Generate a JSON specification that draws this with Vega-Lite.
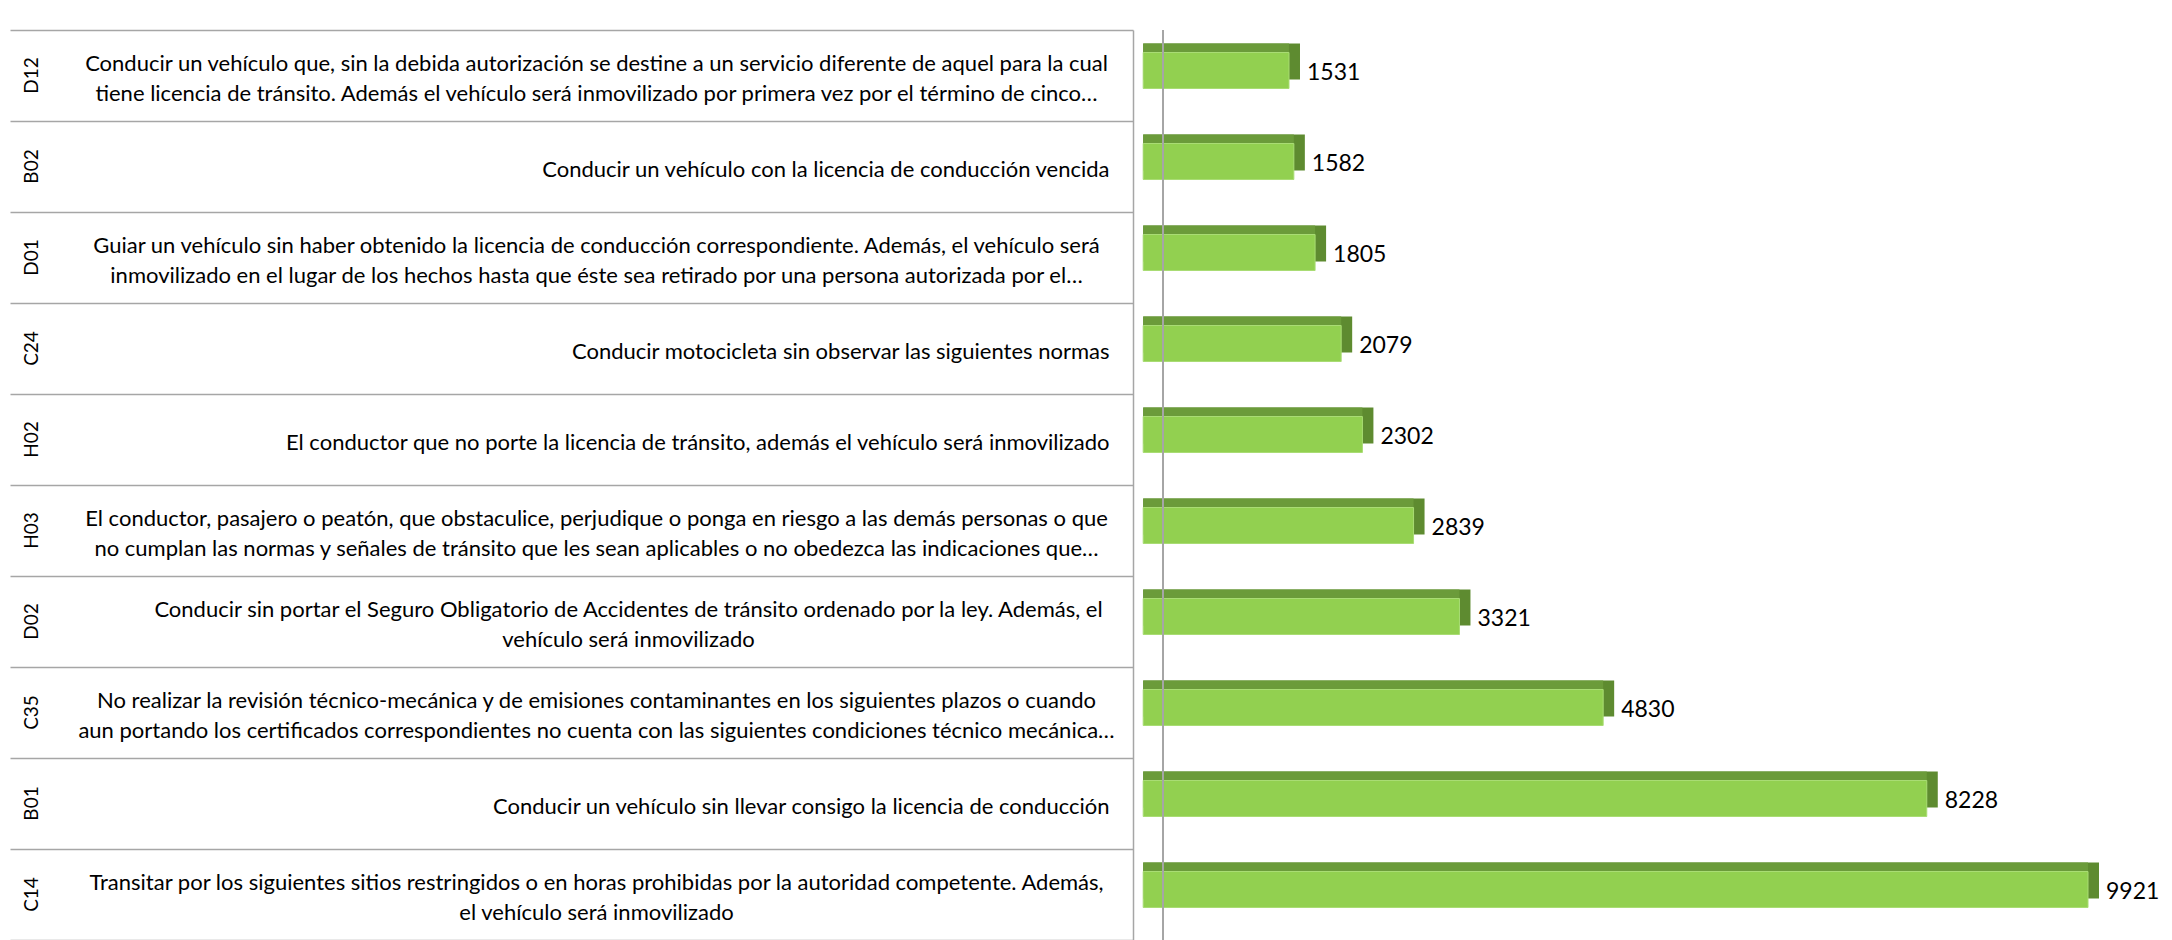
{
  "$schema": "https://vega.github.io/schema/vega-lite/v6.json",
  "width": 1039,
  "height": 910,
  "autosize": {"type": "none"},
  "padding": {"left": 1133, "top": 30, "right": 0, "bottom": 0},
  "background": "white",
  "config": {"view": {"stroke": null}, "font": "Lato"},
  "data": {
    "values": [
      {"code": "D12", "desc": "Conducir un vehículo que, sin la debida autorización se destine a un servicio diferente de aquel para la cual|tiene licencia de tránsito.  Además el vehículo será inmovilizado por primera vez por el término de cinco…", "value": 1531},
      {"code": "B02", "desc": "Conducir un vehículo con la licencia de conducción vencida", "value": 1582},
      {"code": "D01", "desc": "Guiar un vehículo sin haber obtenido la licencia de conducción correspondiente. Además, el vehículo será|inmovilizado en el lugar de los hechos hasta que éste sea retirado por una persona autorizada por el…", "value": 1805},
      {"code": "C24", "desc": "Conducir motocicleta sin observar las siguientes normas", "value": 2079},
      {"code": "H02", "desc": "El conductor que no porte la licencia de tránsito, además el vehículo será inmovilizado", "value": 2302},
      {"code": "H03", "desc": "El conductor, pasajero o peatón, que obstaculice, perjudique o ponga en riesgo a las demás personas o que|no cumplan las normas y señales de tránsito que les sean aplicables o no obedezca las indicaciones que…", "value": 2839},
      {"code": "D02", "desc": "Conducir sin portar el Seguro Obligatorio de Accidentes de tránsito ordenado por la ley. Además, el|vehículo será inmovilizado", "value": 3321},
      {"code": "C35", "desc": "No realizar la revisión técnico-mecánica y de emisiones contaminantes en los siguientes plazos o cuando|aun portando los certificados correspondientes no cuenta con las siguientes condiciones técnico mecánica…", "value": 4830},
      {"code": "B01", "desc": "Conducir un vehículo sin llevar consigo la licencia de conducción", "value": 8228},
      {"code": "C14", "desc": "Transitar por los siguientes sitios restringidos o en horas prohibidas por la autoridad competente.  Además,|el vehículo será inmovilizado", "value": 9921}
    ]
  },
  "resolve": {"scale": {"y": "independent"}, "axis": {"y": "independent"}},
  "layer": [
    {
      "mark": {"type": "bar", "height": 36, "xOffset": 11, "x2Offset": 11, "yOffset": -14, "color": "#5E8B30"},
      "encoding": {
        "y": {"field": "code", "type": "nominal", "sort": null,
          "scale": {"type": "band", "paddingInner": 0, "paddingOuter": 0},
          "axis": {"orient": "left", "title": null, "ticks": false, "domain": false,
            "labelAngle": -90, "labelAlign": "center", "labelBaseline": "middle", "labelPadding": 1102,
            "labelFont": "Lato", "labelFontSize": 19, "labelColor": "#000000"}},
        "x": {"field": "value", "type": "quantitative", "stack": null, "scale": {"domain": [-107, 10803], "nice": false, "zero": false}, "axis": null}
      }
    },
    {
      "mark": {"type": "bar", "height": 36, "x2Offset": 11, "yOffset": -14, "color": "#6B9B3A"},
      "encoding": {
        "y": {"field": "code", "type": "nominal", "sort": null,
          "scale": {"type": "band", "paddingInner": 0, "paddingOuter": 0}, "axis": null},
        "x": {"field": "value", "type": "quantitative", "stack": null}
      }
    },
    {
      "mark": {"type": "bar", "height": 36, "yOffset": -5, "color": "#92D050", "stroke": "#A9DC74", "strokeWidth": 1},
      "encoding": {
        "y": {"field": "code", "type": "nominal", "sort": null,
          "scale": {"type": "band", "paddingInner": 0, "paddingOuter": 0},
          "axis": {"orient": "left", "title": null, "labels": false, "ticks": true, "tickBand": "extent",
            "tickSize": 1123, "tickColor": "#A6A6A6", "tickWidth": 1.5, "domain": true,
            "domainColor": "#A6A6A6", "domainWidth": 1.5, "grid": false}},
        "x": {"field": "value", "type": "quantitative", "stack": null}
      }
    },
    {
      "mark": {"type": "text", "align": "left", "baseline": "middle", "dx": 18, "dy": -3, "font": "Lato", "fontSize": 23, "color": "#000000"},
      "encoding": {
        "y": {"field": "desc", "type": "nominal", "sort": null,
          "scale": {"type": "band", "paddingInner": 0, "paddingOuter": 0},
          "axis": {"orient": "left", "title": null, "ticks": false, "domain": false,
            "labelExpr": "split(datum.value, '|')", "labelLimit": 0, "labelFont": "Lato",
            "labelFontSize": 22, "labelLineHeight": 30, "labelColor": "#000000",
            "labelBaseline": "middle", "labelPadding": 24,
            "encoding": {"labels": {
              "align": {"condition": {"test": "indexof(datum.value, '|') >= 0", "value": "center"}, "value": "right"},
              "dx": {"condition": [
                {"test": "indexof(datum.value, 'Seguro Obligatorio') >= 0", "value": -481},
                {"test": "indexof(datum.value, '|') >= 0", "value": -513}], "value": 0},
              "dy": {"condition": {"test": "indexof(datum.value, '|') >= 0", "value": -12}, "value": 3}
            }}}},
        "x": {"field": "value", "type": "quantitative"},
        "text": {"field": "value", "type": "quantitative", "format": "d"}
      }
    },
    {
      "mark": {"type": "rule", "color": "#A6A6A6", "strokeWidth": 1.5},
      "encoding": {"x": {"datum": 208, "type": "quantitative"}}
    }
  ]
}
